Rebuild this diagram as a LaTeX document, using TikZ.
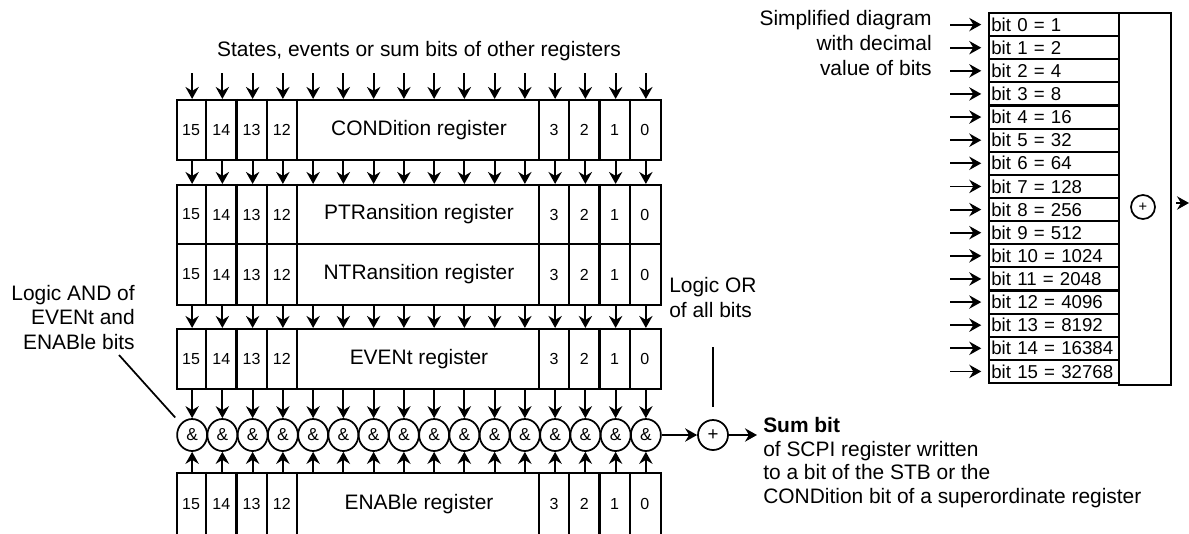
\documentclass[tikz,border=0pt]{standalone}
\usepackage{fontspec}
\setmainfont{Liberation Sans}
\usetikzlibrary{arrows.meta,shapes.geometric}

\tikzset{
  arr/.style={line width=1.4pt,-{Stealth[length=9pt,width=10pt,inset=3pt]}},
  regbox/.style={draw,line width=1.6pt,minimum width=363pt,inner sep=0pt,font=\fontsize{15.7}{18}\selectfont},
  regline/.style={line width=1.6pt},
  bitnum/.style={inner sep=0pt,font=\fontsize{12}{14}\selectfont},
  andgate/.style={draw,ellipse,line width=1.3pt,minimum width=22.5pt,minimum height=24pt,inner sep=0pt,font=\fontsize{13}{15}\selectfont},
  sumgate/.style={draw,circle,line width=1.3pt,minimum size=22.5pt,inner sep=0pt,font=\fontsize{14}{16}\selectfont},
  bitcell/.style={draw,line width=1.6pt,minimum width=97.5pt,minimum height=17.34pt,text width=94pt,align=left,inner xsep=1.5pt,inner ysep=0pt,font=\fontsize{14}{16}\selectfont},
  lbl/.style={inner sep=0pt,font=\fontsize{15.7}{18}\selectfont},
}

\begin{document}
\begin{tikzpicture}[x=0.75pt,y=-0.75pt]
\useasboundingbox (0,0) rectangle (1189,533);

% column and row positions
\foreach \i in {0,...,15}
  \coordinate (col-\i) at ({177+(\i+0.5)*30.25},0);
\coordinate (inrow) at (0,73);
\coordinate (androw) at (0,435);

\node[lbl] (title) at (419,51) {States, events or sum bits of other registers};

% the five registers
\foreach \r/\ya/\yb/\rlabel in {cond/100/160/CONDition register,ptr/185/244/PTRansition register,ntr/244/305/NTRansition register,evt/329/389/EVENt register,ena/473/535/ENABle register}{
  \node[regbox,minimum height={(\yb-\ya)*0.75pt}] (\r) at (419,{(\ya+\yb)/2}) {\rlabel};
  \foreach \k in {1,2,3,4,12,13,14,15}
    \draw[regline] ([xshift={\k*22.6875pt}]\r.north west) -- ([xshift={\k*22.6875pt}]\r.south west);
  \foreach \n [count=\i from 0] in {15,14,13,12}
    \node[bitnum] at ([xshift={(\i+0.5)*22.6875pt}]\r.west) {\n};
  \foreach \n [count=\i from 12] in {3,2,1,0}
    \node[bitnum] at ([xshift={(\i+0.5)*22.6875pt}]\r.west) {\n};
}

% AND gates and bit arrows
\foreach \i in {0,...,15}{
  \node[andgate] (and-\i) at (col-\i |- androw) {\&};
  \draw[arr] (col-\i |- inrow) -- (col-\i |- cond.north);
  \draw[arr] (col-\i |- cond.south) -- (col-\i |- ptr.north);
  \draw[arr] (col-\i |- ntr.south) -- (col-\i |- evt.north);
  \draw[arr] (col-\i |- evt.south) -- (and-\i.north);
  \draw[arr] (col-\i |- ena.north) -- (and-\i.south);
}

% sum bit
\node[sumgate] (sum) at (713,435) {+};
\coordinate (sumout) at (757,435);
\draw[arr] (and-15.east) -- (sum.west);
\draw[arr] (sum.east) -- (sumout);
\node[lbl,align=left,anchor=north west,font=\fontsize{15.7}{17.8}\selectfont] (sumtxt) at (763,417)
  {\textbf{Sum bit}\\of SCPI register written\\to a bit of the STB or the\\CONDition bit of a superordinate register};

\node[lbl,align=left,anchor=north west,font=\fontsize{15.7}{18.75}\selectfont] (ortxt) at (669,277) {Logic OR\\of all bits};
\coordinate (ortop) at (713,347);
\draw[line width=1.3pt,shorten >=9pt] (ortop) -- (sum.north);

\node[lbl,align=right,anchor=north east,font=\fontsize{15.7}{18.4}\selectfont] (andtxt) at (135,285) {Logic AND of\\EVENt and\\ENABle bits};
\coordinate (andpt) at (119,355);
\draw[line width=1.3pt,shorten >=6pt] (andpt) -- (and-0.135);

% simplified diagram
\node[lbl,align=right,anchor=north east,font=\fontsize{15.7}{18.75}\selectfont] (simtxt) at (932,10) {Simplified diagram\\with decimal\\value of bits};
\foreach \k/\v in {0/1,1/2,2/4,3/8,4/16,5/32,6/64,7/128,8/256,9/512,10/1024,11/2048,12/4096,13/8192,14/16384,15/32768}{
  \node[bitcell] (bit-\k) at (1054,{13+(\k+0.5)*23.125}) {bit \k\ = \v};
  \coordinate (bin-\k) at (950,{13+(\k+0.5)*23.125});
  \draw[arr,shorten >=5pt] (bin-\k) -- (bit-\k.west);
}
\node[draw,line width=1.6pt,minimum width=39pt,minimum height=279pt,inner sep=0pt] (orbox) at (1145,199) {};
\node[sumgate,minimum size=18pt,font=\fontsize{11}{13}\selectfont] (orplus) at (1143,207) {+};
\coordinate (orout) at (1189,203);
\draw[arr,shorten <=3pt] (orbox.east |- orout) -- (orout);
\end{tikzpicture}
\end{document}
